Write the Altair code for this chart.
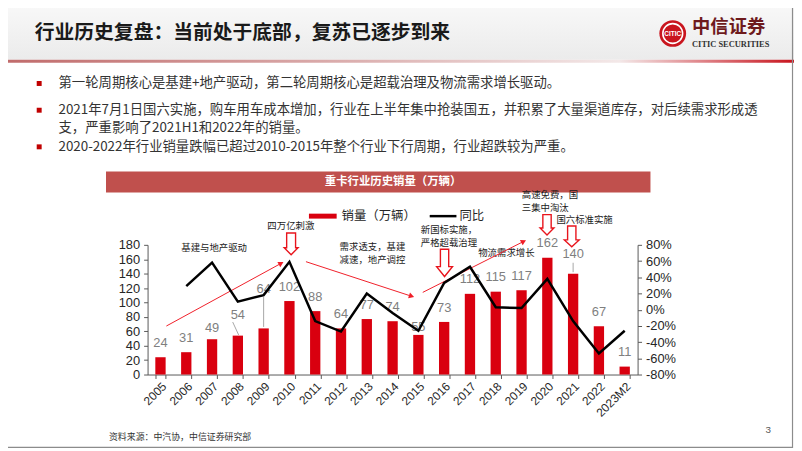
import math
import altair as alt
import pandas as pd

# ---------------- data ----------------
YEARS = ["2005", "2006", "2007", "2008", "2009", "2010", "2011", "2012", "2013", "2014",
         "2015", "2016", "2017", "2018", "2019", "2020", "2021", "2022", "2023M2"]
SALES = [24, 31, 49, 54, 64, 102, 88, 64, 77, 74, 55, 73, 112, 115, 117, 162, 140, 67, 11]
YOY_PCT = [None, 29, 58, 10, 18, 59, -14, -27, 20, -4, -26, 33, 53, 3, 2, 38, -14, -54, -26]
SALES_TICKS = [0, 20, 40, 60, 80, 100, 120, 140, 160, 180]
PCT_TICKS = [-80, -60, -40, -20, 0, 20, 40, 60, 80]

TITLE = "行业历史复盘：当前处于底部，复苏已逐步到来"
BULLET_LINES = [
    "第一轮周期核心是基建+地产驱动，第二轮周期核心是超载治理及物流需求增长驱动。",
    "2021年7月1日国六实施，购车用车成本增加，行业在上半年集中抢装国五，并积累了大量渠道库存，对后续需求形成透",
    "支，严重影响了2021H1和2022年的销量。",
    "2020-2022年行业销量跌幅已超过2010-2015年整个行业下行周期，行业超跌较为严重。",
]
CHART_TITLE = "重卡行业历史销量（万辆）"
LEGEND_BAR = "销量（万辆）"
LEGEND_LINE = "同比"
SOURCE = "资料来源：中汽协，中信证券研究部"

df = pd.DataFrame({
    "year": YEARS,
    "sales": SALES,
    "yoy": [None if v is None else v / 100 for v in YOY_PCT],
})

# ---------------- style / layout ----------------
CJK = "Noto Sans CJK SC"
LAT = "Liberation Sans"
BAR_RED = "#d9000f"
DARK = "#262626"
PLOT_L, PLOT_T = 149, 245          # page coords of plot origin
PLOT_W, PLOT_H = 495, 131
CHART_W, CHART_H = 794, 443
PAD = {"left": PLOT_L - 8, "top": PLOT_T - 8,
       "right": CHART_W - (PLOT_L - 8) - PLOT_W,
       "bottom": CHART_H - (PLOT_T - 8) - PLOT_H}
PX_PER_UNIT = PLOT_H / 180.0

def px(x):
    return x - PLOT_L

def py(y):
    return y - PLOT_T

ONE = pd.DataFrame({"k": [0]})

def text(t, x, y, size, color=DARK, weight="normal", align="left", font=CJK):
    return alt.Chart(ONE).mark_text(
        text=t, align=align, baseline="middle", fontSize=size, color=color,
        fontWeight=weight, font=font
    ).encode(x=alt.value(px(x)), y=alt.value(py(y)))

def rect(x1, y1, x2, y2, **kw):
    return alt.Chart(ONE).mark_rect(**kw).encode(
        x=alt.value(px(x1)), x2=alt.value(px(x2)),
        y=alt.value(py(y1)), y2=alt.value(py(y2)))

def rule(x1, y1, x2, y2, color, width):
    return alt.Chart(ONE).mark_rule(color=color, strokeWidth=width).encode(
        x=alt.value(px(x1)), x2=alt.value(px(x2)),
        y=alt.value(py(y1)), y2=alt.value(py(y2)))

def hollow_arrow(cx, top, tip, shaft_hw, head_hw, head_start):
    c = (top + tip) / 2.0
    h = (tip - top) / 2.0
    hs = (head_start - c) / h
    s, w = shaft_hw / h, head_hw / h
    path = (f"M {-s:.3f} -1 L {s:.3f} -1 L {s:.3f} {hs:.3f} L {w:.3f} {hs:.3f} "
            f"L 0 1 L {-w:.3f} {hs:.3f} L {-s:.3f} {hs:.3f} Z")
    return alt.Chart(ONE).mark_point(
        shape=path, size=(2 * h) ** 2, filled=True, fill="white", stroke="#e8141c",
        strokeWidth=1.4, opacity=1
    ).encode(x=alt.value(px(cx)), y=alt.value(py(c)))

def thin_arrow(x1, y1, x2, y2):
    dx, dy = x2 - x1, y2 - y1
    L = math.hypot(dx, dy)
    ux, uy = dx / L, dy / L
    ang = math.degrees(math.atan2(dx, -dy)) % 360
    hx, hy = x2 - ux * 3.5, y2 - uy * 3.5
    line = rule(x1, y1, x2 - ux * 4, y2 - uy * 4, "#f01e28", 1)
    head = alt.Chart(ONE).mark_point(
        shape="triangle-up", size=38, filled=True, color="#f01e28", angle=ang, opacity=1
    ).encode(x=alt.value(px(hx)), y=alt.value(py(hy)))
    return [line, head]

# ---------------- decorations ----------------
decos = []
decos.append(rect(0, 0, 802, 58, color=alt.LinearGradient(
    gradient="linear", x1=0, x2=0, y1=0, y2=1,
    stops=[alt.GradientStop(color="#f9f9f9", offset=0),
           alt.GradientStop(color="#ebebeb", offset=1)])))
decos.append(rect(0, 58, 802, 61, color=alt.LinearGradient(
    gradient="linear", x1=0, x2=1, y1=0, y2=0,
    stops=[alt.GradientStop(color="#c06a6a", offset=0),
           alt.GradientStop(color="#dcb0b0", offset=0.45),
           alt.GradientStop(color="#f3e8e8", offset=0.78),
           alt.GradientStop(color="#c8141e", offset=1)])))
decos.append(rect(0.5, 0.5, 800.5, 449.5, fillOpacity=0, stroke="#8c8c8c", strokeWidth=1.2))
decos.append(text(TITLE, 35, 31, 20, color="#1a1a1a", weight="bold"))
# logo
decos.append(alt.Chart(ONE).mark_point(shape="circle", size=27 ** 2, filled=True,
                                       color="#c9151e", opacity=1)
             .encode(x=alt.value(px(679.5)), y=alt.value(py(31.5))))
decos.append(alt.Chart(ONE).mark_point(shape="circle", size=20 ** 2, filled=False,
                                       color="white", strokeWidth=1.6, opacity=1)
             .encode(x=alt.value(px(679.5)), y=alt.value(py(31.5))))
decos.append(text("CITIC", 679.5, 32, 6.5, color="white", weight="bold", align="center", font=LAT))
decos.append(text("中信证券", 699, 25, 18.5, color="#6e1a1c", weight="bold"))
decos.append(text("CITIC SECURITIES", 699, 42, 8.5, color="#333333", weight="bold",
                  font="Liberation Sans Narrow"))
# bullets
for y, ln, has_sq in [(82, BULLET_LINES[0], True), (109, BULLET_LINES[1], True),
                      (127, BULLET_LINES[2], False), (146, BULLET_LINES[3], True)]:
    if has_sq:
        decos.append(rect(37, y - 2.5, 42, y + 2.5, color="#c00000"))
    decos.append(text(ln, 59, y, 13.5, color="#333333"))
# chart title band
decos.append(rect(107, 171, 657, 192, color="#c0504d"))
decos.append(text(CHART_TITLE, 397, 182, 11.5, color="white", weight="bold", align="center"))
# legend
decos.append(rect(312, 213.5, 340, 218.5, color=BAR_RED))
decos.append(text(LEGEND_BAR, 345, 216, 12.5, color=DARK))
decos.append(rule(434, 216, 461, 216, "black", 2.5))
decos.append(text(LEGEND_LINE, 464, 216, 12.5, color=DARK))
# annotations
for t, x, y in [("四万亿刺激", 270, 226), ("基建与地产驱动", 183, 248),
                ("需求透支，基建", 343, 247), ("减速，地产调控", 343, 260.5),
                ("新国标实施，", 425, 230.5), ("严格超载治理", 425, 243.5),
                ("物流需求增长", 483, 253), ("高速免费，国", 527, 195),
                ("三集中淘汰", 527, 207.5), ("国六标准实施", 562, 219.5)]:
    decos.append(text(t, x, y, 9.5, color="#1a1a1a"))
decos += thin_arrow(168, 327, 287, 262)
decos += thin_arrow(309, 262, 419, 298)
decos += thin_arrow(427, 293, 532, 240)
decos.append(hollow_arrow(294, 233, 255, 4.5, 7, 248))
decos.append(hollow_arrow(449, 249.5, 277, 4.2, 8, 267))
decos.append(hollow_arrow(552.5, 214.5, 235, 4.2, 7, 228))
decos.append(hollow_arrow(577.5, 226, 247, 4.2, 7.5, 240))
# 2008 label leader
decos.append(rule(235, 323, 241, 336, "#a6a6a6", 1))
decos.append(text(SOURCE, 110, 439, 9, color="#333333"))
decos.append(text("3", 776, 432, 10, color="#595959", align="center", font=LAT))

# ---------------- chart ----------------
x_enc = alt.X("year:N", sort=YEARS,
              scale=alt.Scale(paddingInner=0.6, paddingOuter=0.3),
              axis=alt.Axis(title=None, labelAngle=-45, labelFontSize=12, labelFont=LAT,
                            labelColor=DARK, tickBand="extent", tickSize=4,
                            domainColor="#595959", tickColor="#595959", labelPadding=2))
y_sales_scale = alt.Scale(domain=[0, 180], nice=False)
left_axis = alt.Axis(title=None, values=SALES_TICKS, orient="left", grid=False,
                     labelFontSize=13, labelFont=LAT, labelColor=DARK, tickSize=4,
                     labelPadding=4, domainColor="#595959", tickColor="#595959")

base = alt.Chart(df)
bars = base.mark_bar(color=BAR_RED).encode(
    x=x_enc,
    y=alt.Y("sales:Q", scale=y_sales_scale, axis=left_axis))

LABEL_DY = {"2007": -11, "2008": -21, "2009": -40, "2015": -8, "2021": -20}
DEFAULT_DY = -14.5
label_layers = []
groups = {}
for yr in YEARS:
    groups.setdefault(LABEL_DY.get(yr, DEFAULT_DY), []).append(yr)
for dy, yrs in groups.items():
    label_layers.append(
        base.mark_text(dy=dy, fontSize=13, font=LAT, color="#7f7f7f", baseline="middle")
        .encode(x=alt.X("year:N", sort=YEARS),
                y=alt.Y("sales:Q", scale=y_sales_scale, axis=left_axis),
                text="sales:Q")
        .transform_filter(alt.FieldOneOfPredicate(field="year", oneOf=yrs)))

leaders = base.transform_filter(
    alt.FieldOneOfPredicate(field="year", oneOf=["2009", "2021"])
).transform_calculate(
    y0="datum.sales + 1.5/" + str(PX_PER_UNIT),
    y1="datum.year == '2009' ? datum.sales + 32/" + str(PX_PER_UNIT)
       + " : datum.sales + 11/" + str(PX_PER_UNIT)
).mark_rule(color="#a6a6a6", strokeWidth=1).encode(
    x=alt.X("year:N", sort=YEARS),
    y=alt.Y("y0:Q", scale=y_sales_scale, axis=left_axis),
    y2="y1:Q")

bar_layer = alt.layer(bars, leaders, *label_layers)

line = base.transform_filter("isValid(datum.yoy)").mark_line(
    color="black", strokeWidth=2.5).encode(
    x=alt.X("year:N", sort=YEARS),
    y=alt.Y("yoy:Q", scale=alt.Scale(domain=[-0.8, 0.8], nice=False),
            axis=alt.Axis(title=None, orient="right", values=[round(v / 100, 2) for v in PCT_TICKS],
                          labelExpr="round(datum.value*100) + '%'", grid=False,
                          labelFontSize=13, labelFont=LAT, labelColor=DARK, tickSize=4,
                          labelPadding=4, domainColor="#595959", tickColor="#595959")))

chart = alt.layer(*decos, bar_layer, line).resolve_scale(y="independent").properties(
    width=PLOT_W, height=PLOT_H, padding=PAD,
    autosize=alt.AutoSizeParams(type="none")
).configure_view(stroke=None)

chart.save("out.html", embed_options={"renderer": "svg", "actions": False})
